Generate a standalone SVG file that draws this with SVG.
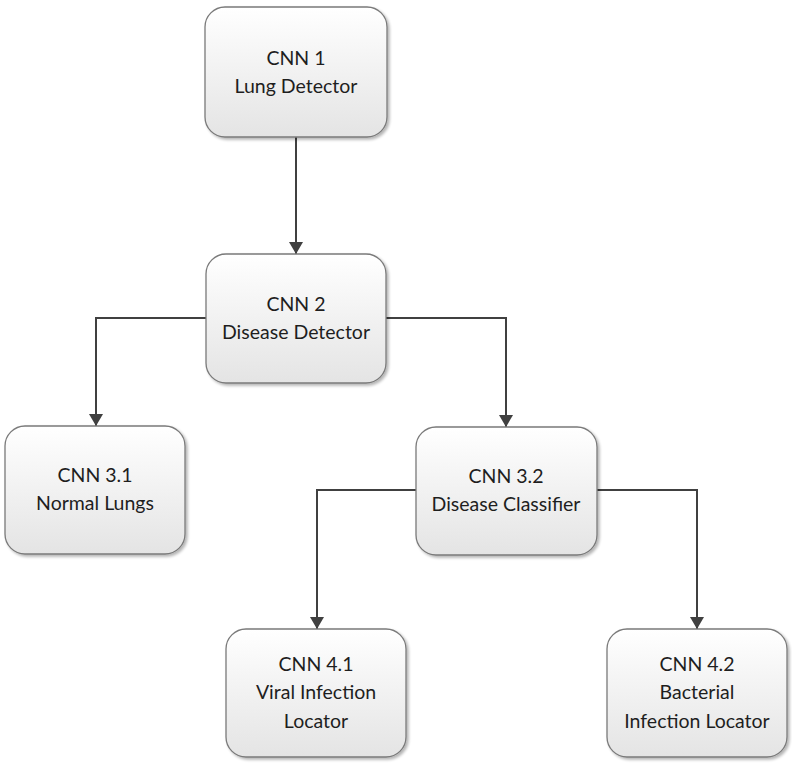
<svg xmlns="http://www.w3.org/2000/svg" width="792" height="765" viewBox="0 0 792 765">
<defs>
<linearGradient id="g" x1="0" y1="0" x2="0" y2="1">
<stop offset="0" stop-color="#ffffff"/>
<stop offset="1" stop-color="#e4e4e4"/>
</linearGradient>
<filter id="sh" x="-10%" y="-10%" width="125%" height="125%">
<feGaussianBlur in="SourceAlpha" stdDeviation="1.5"/>
<feOffset dx="2" dy="2" result="b"/>
<feComponentTransfer><feFuncA type="linear" slope="0.3"/></feComponentTransfer>
<feMerge><feMergeNode/><feMergeNode in="SourceGraphic"/></feMerge>
</filter>
<marker id="arr" viewBox="0 0 12 14" refX="12" refY="7" markerWidth="12" markerHeight="14" markerUnits="userSpaceOnUse" orient="auto">
<path d="M0,0 L12,7 L0,14 Z" fill="#404040"/>
</marker>
</defs>
<style>
.box{fill:url(#g);stroke:#7a7a7a;stroke-width:1.3;filter:url(#sh)}
.t{font-family:Lato,"Open Sans",sans-serif;font-size:19.5px;fill:#1e1e1e;text-anchor:middle}
.c{fill:none;stroke:#404040;stroke-width:2;marker-end:url(#arr)}
</style>
<rect width="792" height="765" fill="#ffffff"/>
<g id="connectors">
<path class="c" d="M296,137 V254"/>
<path class="c" d="M206,318 H96 V426"/>
<path class="c" d="M386,318 H506 V427"/>
<path class="c" d="M416,490 H317 V629"/>
<path class="c" d="M597,490 H697 V629"/>
</g>
<g id="cnn1">
<rect class="box" x="205" y="7" width="182" height="130" rx="20"/>
<text class="t" x="296" y="65">CNN 1</text>
<text class="t" x="296" y="93">Lung Detector</text>
</g>
<g id="cnn2">
<rect class="box" x="206" y="254" width="180" height="129" rx="20"/>
<text class="t" x="296" y="311">CNN 2</text>
<text class="t" x="296" y="339">Disease Detector</text>
</g>
<g id="cnn31">
<rect class="box" x="5" y="426" width="180" height="128" rx="20"/>
<text class="t" x="95" y="482">CNN 3.1</text>
<text class="t" x="95" y="510">Normal Lungs</text>
</g>
<g id="cnn32">
<rect class="box" x="416" y="427" width="181" height="128" rx="20"/>
<text class="t" x="506" y="483">CNN 3.2</text>
<text class="t" x="506" y="511">Disease Classifier</text>
</g>
<g id="cnn41">
<rect class="box" x="226" y="629" width="180" height="128" rx="20"/>
<text class="t" x="316" y="671">CNN 4.1</text>
<text class="t" x="316" y="699">Viral Infection</text>
<text class="t" x="316" y="728">Locator</text>
</g>
<g id="cnn42">
<rect class="box" x="607" y="629" width="180" height="128" rx="20"/>
<text class="t" x="697" y="671">CNN 4.2</text>
<text class="t" x="697" y="699">Bacterial</text>
<text class="t" x="697" y="728">Infection Locator</text>
</g>
</svg>
